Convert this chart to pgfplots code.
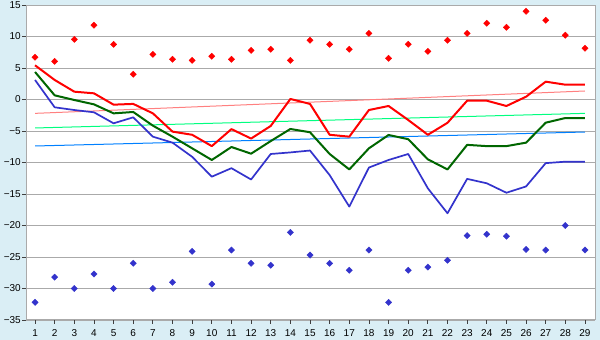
\documentclass[border=0pt]{standalone}
\usepackage{pgfplots}
\pgfplotsset{compat=1.18}
\usepackage{fontspec}
\setmainfont{Liberation Sans}
\definecolor{bgblue}{RGB}{218,238,245}
\definecolor{gridgray}{RGB}{170,170,170}
\definecolor{lred}{RGB}{255,0,0}
\definecolor{lgreen}{RGB}{0,102,0}
\definecolor{lblue}{RGB}{51,51,204}
\definecolor{tpink}{RGB}{255,128,128}
\definecolor{tgreen}{RGB}{0,255,128}
\definecolor{tblue}{RGB}{0,128,255}
\begin{document}
\begin{tikzpicture}[x=1pt,y=1pt]
\fill[bgblue] (0,0) rectangle (600,340);
\begin{axis}[
  at={(26pt,20pt)}, anchor=south west,
  scale only axis, width=569pt, height=315pt,
  xmin=0.54, xmax=29.51, ymin=-35, ymax=15,
  xtick={1,...,29},
  ytick={-35,-30,...,15},
  yticklabels={−35,−30,−25,−20,−15,−10,−5,0,5,10,15},
  xtick pos=bottom, ytick pos=left,
  tick align=outside, major tick length=4pt,
  tick style={black!75, line width=0.8pt},
  ymajorgrids, grid style={gridgray, line width=0.9pt},
  axis line style={gridgray, line width=1pt},
  axis background/.style={fill=white},
  ticklabel style={font=\fontsize{10}{12}\selectfont},
  xticklabel style={inner sep=1pt, yshift=-4pt},
  yticklabel style={inner sep=1pt},
  /pgf/number format/assume math mode=true,
]
% trend lines
\addplot[tpink, line width=1pt] coordinates {(1,-2.2) (29,1.35)};
\addplot[tgreen, line width=1pt] coordinates {(1,-4.52) (29,-2.2)};
\addplot[tblue, line width=1pt] coordinates {(1,-7.38) (29,-5.16)};
% lines
\addplot[lred, line width=2pt, line join=round] coordinates {
(1,5.43) (2,3.1) (3,1.24) (4,0.98) (5,-0.82) (6,-0.7) (7,-2.2) (8,-5.1) (9,-5.6) (10,-7.4)
(11,-4.7) (12,-6.2) (13,-4.2) (14,0.08) (15,-0.7) (16,-5.6) (17,-5.9) (18,-1.67) (19,-1.03) (20,-3.25)
(21,-5.6) (22,-3.7) (23,-0.19) (24,-0.19) (25,-1.03) (26,0.44) (27,2.83) (28,2.35) (29,2.35)};
\addplot[lgreen, line width=2pt, line join=round] coordinates {
(1,4.37) (2,0.66) (3,-0.08) (4,-0.77) (5,-2.2) (6,-1.98) (7,-4.15) (8,-5.9) (9,-7.75) (10,-9.6)
(11,-7.54) (12,-8.6) (13,-6.6) (14,-4.68) (15,-5.2) (16,-8.65) (17,-11.1) (18,-7.75) (19,-5.63) (20,-6.3)
(21,-9.5) (22,-11.1) (23,-7.2) (24,-7.4) (25,-7.4) (26,-6.85) (27,-3.68) (28,-2.94) (29,-2.94)};
\addplot[lblue, line width=1.7pt, line join=round] coordinates {
(1,3.1) (2,-1.24) (3,-1.67) (4,-2.03) (5,-3.78) (6,-2.83) (7,-5.9) (8,-6.85) (9,-9.1) (10,-12.25)
(11,-10.9) (12,-12.7) (13,-8.65) (14,-8.4) (15,-8.1) (16,-12.0) (17,-17.0) (18,-10.8) (19,-9.6) (20,-8.65)
(21,-14.1) (22,-18.06) (23,-12.6) (24,-13.3) (25,-14.8) (26,-13.8) (27,-10.1) (28,-9.87) (29,-9.87)};
% max markers
\addplot[only marks, mark=square*, mark size=2.2pt, mark options={rotate=45}, color=lred] coordinates {
(1,6.7) (2,6.06) (3,9.55) (4,11.8) (5,8.76) (6,4.0) (7,7.17) (8,6.38) (9,6.22) (10,6.86)
(11,6.38) (12,7.8) (13,7.97) (14,6.22) (15,9.4) (16,8.76) (17,7.97) (18,10.5) (19,6.54) (20,8.76)
(21,7.65) (22,9.4) (23,10.5) (24,12.1) (25,11.46) (26,14.0) (27,12.57) (28,10.2) (29,8.13)};
% min markers
\addplot[only marks, mark=square*, mark size=2.2pt, mark options={rotate=45}, color=lblue] coordinates {
(1,-32.2) (2,-28.2) (3,-30.0) (4,-27.7) (5,-30.0) (6,-26.0) (7,-30.0) (8,-29.0) (9,-24.1) (10,-29.3)
(11,-23.9) (12,-26.0) (13,-26.3) (14,-21.1) (15,-24.7) (16,-26.0) (17,-27.1) (18,-23.9) (19,-32.2) (20,-27.1)
(21,-26.6) (22,-25.5) (23,-21.6) (24,-21.4) (25,-21.7) (26,-23.8) (27,-23.9) (28,-20.0) (29,-23.9)};
\end{axis}
\end{tikzpicture}
\end{document}
